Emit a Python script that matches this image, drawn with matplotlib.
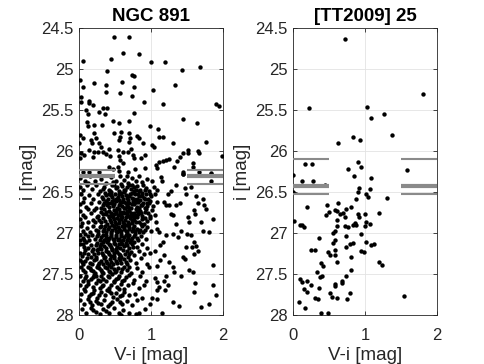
import matplotlib
matplotlib.use('Agg')
import matplotlib.pyplot as plt
from matplotlib.ticker import FuncFormatter

plt.rcParams['font.family'] = ['Liberation Sans', 'DejaVu Sans']

# ---------------- data ----------------
titles = ['NGC 891', '[TT2009] 25']
x_label = 'V-i [mag]'
y_label = 'i [mag]'
x_ticks = [0, 1, 2]
y_ticks = [24.5, 25, 25.5, 26, 26.5, 27, 27.5, 28]

# NGC 891: bright / sparse part (V-i, i)
ngc_upper = [
    (0.48, 24.61), (0.70, 24.61), (0.615, 24.805), (0.84, 24.82), (0.45, 24.88),
    (0.05, 24.90), (1.00, 24.91), (1.20, 24.91), (1.43, 25.01), (1.68, 24.975),
    (0.39, 25.03), (0.02, 25.14), (0.21, 25.17), (0.37, 25.19), (0.60, 25.155),
    (0.73, 25.07), (0.76, 25.09), (0.055, 25.215), (0.76, 25.215), (1.03, 25.25),
    (1.33, 25.19), (0.37, 25.28), (0.565, 25.29), (0.73, 25.325), (0.03, 25.345),
    (0.135, 25.39), (0.90, 25.40), (1.90, 25.43), (1.95, 25.45), (1.65, 26.00),
    (1.66, 26.03), (1.58, 26.15), (1.58, 26.19),
]
ngc_mid = [
    (0.03, 25.40), (0.14, 25.41), (0.19, 25.44), (0.33, 25.48), (0.39, 25.48),
    (0.28, 25.53), (0.10, 25.50), (0.13, 25.55), (0.365, 25.55), (1.17, 25.43),
    (0.77, 25.54), (1.44, 25.61), (1.64, 25.66), (0.99, 25.69), (1.10, 25.73),
    (0.11, 25.65), (0.12, 25.70), (0.21, 25.68), (0.32, 25.68), (0.47, 25.64),
    (0.56, 25.655), (0.70, 25.635), (0.015, 25.805), (0.05, 25.845), (0.005, 25.90),
    (0.21, 25.785), (0.17, 25.865), (0.24, 25.845), (0.18, 25.905), (0.28, 25.905),
    (0.305, 25.95), (0.26, 26.01), (0.34, 26.015), (0.49, 25.775), (0.58, 25.77),
    (0.69, 25.785), (0.805, 25.82), (0.84, 25.84), (0.575, 25.83), (0.56, 25.86),
    (0.71, 25.84), (0.70, 25.885), (0.885, 25.905), (0.61, 26.01), (0.545, 25.99),
    (0.68, 26.01), (0.72, 25.98), (0.03, 26.03), (0.07, 26.05), (0.015, 26.09),
    (0.14, 25.99), (0.21, 26.01), (0.19, 26.07), (0.42, 25.97), (0.375, 26.04),
    (0.435, 26.06), (0.55, 26.06), (0.57, 26.11), (0.61, 26.15), (0.745, 26.05),
    (0.77, 26.08), (0.86, 26.09), (0.91, 26.05), (1.02, 25.93), (1.04, 25.95),
    (1.115, 25.83), (1.16, 25.83), (1.30, 25.90), (1.44, 26.02), (1.51, 25.99),
    (1.52, 26.02), (1.76, 25.89), (1.98, 26.06), (1.07, 26.17), (1.115, 26.14),
    (1.16, 26.12), (1.21, 26.11), (1.245, 26.10), (1.09, 26.21), (1.36, 26.12),
    (1.40, 26.07), (1.315, 26.19), (1.44, 26.25), (1.45, 26.28), (1.67, 26.25),
    (1.83, 26.27), (0.42, 26.20), (0.47, 26.22), (0.54, 26.19), (0.56, 26.24),
    (0.68, 26.25), (0.78, 26.22), (0.91, 26.21), (0.05, 26.25), (0.14, 26.25),
    (0.28, 26.25),
]
# NGC 891: dense main body
ngc_core = [
    (0.02, 26.33), (0.08, 26.37), (0.15, 26.31), (0.22, 26.36), (0.31, 26.34),
    (0.38, 26.39), (0.45, 26.32), (0.52, 26.37), (0.57, 26.31), (0.63, 26.35),
    (0.68, 26.39), (0.73, 26.33), (0.79, 26.36), (0.84, 26.31), (0.88, 26.38),
    (0.94, 26.34), (1.01, 26.37), (0.66, 26.30), (0.47, 26.38), (0.12, 26.39),
    (0.01, 26.44), (0.05, 26.48), (0.11, 26.42), (0.18, 26.46), (0.24, 26.41),
    (0.29, 26.49), (0.35, 26.44), (0.41, 26.47), (0.46, 26.42), (0.51, 26.45),
    (0.55, 26.49), (0.60, 26.43), (0.64, 26.47), (0.69, 26.41), (0.72, 26.46),
    (0.76, 26.49), (0.81, 26.43), (0.85, 26.47), (0.89, 26.42), (0.93, 26.45),
    (0.97, 26.49), (1.04, 26.44), (1.09, 26.47), (0.58, 26.40), (0.77, 26.44),
    (0.03, 26.52), (0.07, 26.57), (0.14, 26.54), (0.20, 26.59), (0.26, 26.53),
    (0.32, 26.56), (0.36, 26.51), (0.40, 26.58), (0.44, 26.54), (0.48, 26.60),
    (0.50, 26.52), (0.54, 26.56), (0.58, 26.51), (0.61, 26.58), (0.65, 26.54),
    (0.68, 26.60), (0.71, 26.52), (0.74, 26.57), (0.78, 26.53), (0.80, 26.59),
    (0.83, 26.55), (0.87, 26.51), (0.90, 26.57), (0.93, 26.53), (0.96, 26.59),
    (1.00, 26.55), (1.06, 26.52), (0.63, 26.50), (0.85, 26.60), (0.45, 26.50),
    (0.01, 26.65), (0.06, 26.62), (0.10, 26.68), (0.17, 26.64), (0.23, 26.69),
    (0.28, 26.62), (0.33, 26.66), (0.37, 26.61), (0.41, 26.68), (0.44, 26.63),
    (0.47, 26.67), (0.51, 26.61), (0.53, 26.69), (0.57, 26.64), (0.60, 26.67),
    (0.63, 26.62), (0.66, 26.66), (0.69, 26.63), (0.72, 26.69), (0.75, 26.61),
    (0.77, 26.65), (0.80, 26.68), (0.82, 26.62), (0.86, 26.66), (0.89, 26.63),
    (0.92, 26.69), (0.95, 26.64), (0.99, 26.61), (1.03, 26.67), (0.55, 26.60),
    (0.70, 26.70), (0.40, 26.64),
    (0.02, 26.73), (0.05, 26.78), (0.12, 26.71), (0.16, 26.76), (0.21, 26.72),
    (0.27, 26.79), (0.30, 26.74), (0.35, 26.71), (0.38, 26.77), (0.42, 26.73),
    (0.46, 26.79), (0.49, 26.72), (0.52, 26.76), (0.55, 26.71), (0.58, 26.78),
    (0.61, 26.74), (0.64, 26.70), (0.67, 26.77), (0.70, 26.73), (0.73, 26.79),
    (0.76, 26.75), (0.79, 26.71), (0.82, 26.77), (0.85, 26.73), (0.88, 26.79),
    (0.91, 26.74), (0.96, 26.76), (1.01, 26.72), (1.05, 26.78), (0.60, 26.80),
    (0.01, 26.83), (0.04, 26.88), (0.09, 26.81), (0.13, 26.86), (0.19, 26.84),
    (0.25, 26.81), (0.31, 26.87), (0.34, 26.82), (0.39, 26.89), (0.43, 26.84),
    (0.47, 26.80), (0.50, 26.86), (0.53, 26.82), (0.56, 26.88), (0.59, 26.83),
    (0.62, 26.89), (0.65, 26.81), (0.68, 26.86), (0.71, 26.82), (0.74, 26.88),
    (0.77, 26.84), (0.80, 26.80), (0.84, 26.86), (0.87, 26.83), (0.90, 26.89),
    (0.94, 26.85), (0.98, 26.82), (1.07, 26.86), (0.66, 26.90),
    (0.03, 26.92), (0.06, 26.97), (0.11, 26.94), (0.15, 26.99), (0.20, 26.91),
    (0.24, 26.96), (0.29, 26.93), (0.33, 26.98), (0.36, 26.91), (0.40, 26.95),
    (0.44, 26.99), (0.48, 26.92), (0.51, 26.97), (0.54, 26.93), (0.57, 26.98),
    (0.60, 26.91), (0.63, 26.95), (0.67, 26.99), (0.70, 26.93), (0.73, 26.97),
    (0.76, 26.91), (0.80, 26.95), (0.83, 26.99), (0.87, 26.92), (0.91, 26.96),
    (0.95, 26.93), (1.00, 26.98), (0.46, 26.90),
    (0.01, 27.02), (0.05, 27.06), (0.09, 27.01), (0.14, 27.08), (0.18, 27.03),
    (0.22, 27.07), (0.27, 27.01), (0.31, 27.05), (0.35, 27.09), (0.38, 27.02),
    (0.42, 27.06), (0.45, 27.01), (0.49, 27.08), (0.52, 27.03), (0.56, 27.07),
    (0.59, 27.01), (0.63, 27.05), (0.66, 27.09), (0.70, 27.02), (0.74, 27.06),
    (0.78, 27.01), (0.82, 27.08), (0.86, 27.04), (0.93, 27.07), (0.02, 27.09),
    (0.02, 27.13), (0.07, 27.17), (0.10, 27.11), (0.16, 27.15), (0.20, 27.19),
    (0.25, 27.12), (0.29, 27.16), (0.33, 27.11), (0.37, 27.18), (0.41, 27.13),
    (0.44, 27.17), (0.48, 27.12), (0.51, 27.19), (0.55, 27.14), (0.58, 27.10),
    (0.62, 27.16), (0.65, 27.12), (0.69, 27.18), (0.73, 27.14), (0.77, 27.11),
    (0.81, 27.17), (0.88, 27.13), (0.95, 27.18),
    (0.01, 27.24), (0.04, 27.28), (0.09, 27.21), (0.13, 27.26), (0.18, 27.22),
    (0.23, 27.29), (0.27, 27.24), (0.30, 27.20), (0.34, 27.27), (0.38, 27.22),
    (0.42, 27.26), (0.46, 27.21), (0.49, 27.28), (0.53, 27.23), (0.57, 27.27),
    (0.61, 27.21), (0.64, 27.25), (0.68, 27.29), (0.72, 27.23), (0.76, 27.27),
    (0.83, 27.22), (0.90, 27.26), (0.99, 27.24),
    (0.02, 27.33), (0.06, 27.38), (0.11, 27.31), (0.15, 27.36), (0.21, 27.33),
    (0.26, 27.39), (0.30, 27.34), (0.35, 27.31), (0.39, 27.37), (0.43, 27.32),
    (0.47, 27.38), (0.51, 27.34), (0.55, 27.30), (0.59, 27.36), (0.63, 27.32),
    (0.67, 27.38), (0.71, 27.33), (0.79, 27.36), (0.86, 27.31), (0.94, 27.38),
    (0.03, 27.42), (0.08, 27.47), (0.12, 27.41), (0.17, 27.45), (0.22, 27.49),
    (0.28, 27.43), (0.32, 27.47), (0.36, 27.41), (0.41, 27.46), (0.45, 27.42),
    (0.50, 27.48), (0.54, 27.43), (0.58, 27.47), (0.62, 27.41), (0.66, 27.45),
    (0.72, 27.49), (0.80, 27.43), (0.88, 27.47), (0.97, 27.42),
    (0.01, 27.53), (0.05, 27.58), (0.10, 27.52), (0.16, 27.56), (0.21, 27.51),
    (0.26, 27.57), (0.31, 27.53), (0.37, 27.59), (0.42, 27.54), (0.46, 27.50),
    (0.51, 27.56), (0.56, 27.52), (0.60, 27.58), (0.65, 27.54), (0.70, 27.51),
    (0.77, 27.57), (0.85, 27.53), (0.93, 27.59),
    (0.02, 27.63), (0.07, 27.68), (0.13, 27.62), (0.19, 27.66), (0.24, 27.61),
    (0.29, 27.67), (0.34, 27.63), (0.39, 27.69), (0.44, 27.64), (0.48, 27.60),
    (0.53, 27.66), (0.58, 27.62), (0.63, 27.68), (0.68, 27.64), (0.75, 27.61),
    (0.83, 27.67), (0.90, 27.63),
    (0.03, 27.74), (0.09, 27.71), (0.14, 27.77), (0.20, 27.73), (0.25, 27.79),
    (0.31, 27.72), (0.36, 27.76), (0.41, 27.71), (0.47, 27.78), (0.52, 27.73),
    (0.57, 27.77), (0.62, 27.72), (0.69, 27.76), (0.78, 27.74), (0.87, 27.79),
    (0.01, 27.82), (0.07, 27.86), (0.12, 27.81), (0.18, 27.88), (0.24, 27.83),
    (0.30, 27.87), (0.35, 27.82), (0.40, 27.89), (0.46, 27.84), (0.53, 27.81),
    (0.60, 27.87), (0.66, 27.83), (0.74, 27.88), (0.81, 27.82),
    (0.04, 27.93), (0.10, 27.97), (0.17, 27.92), (0.23, 27.96), (0.29, 27.99),
    (0.34, 27.93), (0.42, 27.97), (0.48, 27.92), (0.55, 27.98), (0.61, 27.94),
    (0.70, 27.97), (0.79, 27.99), (0.58, 28.00),
]
# NGC 891: extra stars filling the crowded centre of the cloud
ngc_core_fill = [
    (0.33, 26.46), (0.43, 26.49), (0.49, 26.41), (0.62, 26.48), (0.67, 26.44),
    (0.74, 26.42), (0.83, 26.49), (0.91, 26.47), (0.53, 26.44), (0.79, 26.47),
    (0.34, 26.59), (0.38, 26.54), (0.46, 26.56), (0.52, 26.58), (0.56, 26.53),
    (0.60, 26.55), (0.66, 26.57), (0.70, 26.55), (0.73, 26.51), (0.76, 26.59),
    (0.82, 26.52), (0.88, 26.55), (0.92, 26.59), (0.98, 26.52), (0.42, 26.52),
    (0.31, 26.69), (0.35, 26.64), (0.39, 26.66), (0.46, 26.61), (0.49, 26.65),
    (0.55, 26.66), (0.59, 26.62), (0.62, 26.69), (0.65, 26.64), (0.68, 26.68),
    (0.74, 26.65), (0.79, 26.62), (0.84, 26.69), (0.88, 26.66), (0.94, 26.67),
    (0.97, 26.63),
    (0.33, 26.77), (0.37, 26.74), (0.41, 26.79), (0.44, 26.75), (0.48, 26.77),
    (0.51, 26.73), (0.54, 26.78), (0.57, 26.74), (0.63, 26.76), (0.66, 26.73),
    (0.69, 26.79), (0.72, 26.75), (0.78, 26.78), (0.81, 26.73), (0.86, 26.76),
    (0.93, 26.71), (0.98, 26.79),
    (0.28, 26.84), (0.36, 26.85), (0.41, 26.81), (0.45, 26.87), (0.49, 26.83),
    (0.52, 26.89), (0.55, 26.84), (0.58, 26.81), (0.61, 26.86), (0.64, 26.84),
    (0.70, 26.89), (0.73, 26.84), (0.76, 26.81), (0.79, 26.87), (0.86, 26.89),
    (0.92, 26.82), (0.22, 26.87),
    (0.27, 26.97), (0.31, 26.91), (0.35, 26.95), (0.38, 26.99), (0.42, 26.93),
    (0.46, 26.96), (0.50, 26.94), (0.53, 26.99), (0.56, 26.95), (0.59, 26.97),
    (0.62, 26.93), (0.65, 26.97), (0.69, 26.95), (0.75, 26.94), (0.78, 26.98),
    (0.85, 26.96), (0.89, 26.99),
    (0.25, 27.04), (0.29, 27.08), (0.33, 27.02), (0.37, 27.06), (0.40, 27.09),
    (0.44, 27.04), (0.47, 27.07), (0.51, 27.05), (0.54, 27.09), (0.58, 27.04),
    (0.61, 27.08), (0.65, 27.03), (0.68, 27.06), (0.72, 27.09), (0.76, 27.04),
    (0.80, 27.06), (0.12, 27.04), (0.07, 27.08),
    (0.05, 27.14), (0.13, 27.18), (0.23, 27.15), (0.27, 27.19), (0.31, 27.14),
    (0.35, 27.16), (0.39, 27.11), (0.43, 27.15), (0.46, 27.19), (0.50, 27.14),
    (0.53, 27.17), (0.57, 27.18), (0.60, 27.13), (0.67, 27.15), (0.71, 27.11),
    (0.75, 27.17),
    (0.07, 27.24), (0.16, 27.29), (0.21, 27.25), (0.25, 27.21), (0.32, 27.24),
    (0.36, 27.29), (0.40, 27.23), (0.44, 27.28), (0.48, 27.24), (0.51, 27.22),
    (0.55, 27.26), (0.59, 27.29), (0.66, 27.22), (0.70, 27.26),
    (0.04, 27.35), (0.09, 27.34), (0.18, 27.38), (0.24, 27.32), (0.28, 27.36),
    (0.33, 27.38), (0.37, 27.34), (0.41, 27.39), (0.45, 27.35), (0.49, 27.31),
    (0.53, 27.37), (0.57, 27.33), (0.65, 27.35),
    (0.05, 27.45), (0.15, 27.43), (0.20, 27.46), (0.25, 27.41), (0.30, 27.45),
    (0.34, 27.49), (0.39, 27.43), (0.43, 27.48), (0.48, 27.44), (0.52, 27.46),
    (0.60, 27.44), (0.69, 27.42),
    (0.08, 27.55), (0.13, 27.59), (0.19, 27.54), (0.24, 27.52), (0.29, 27.59),
    (0.34, 27.56), (0.40, 27.52), (0.49, 27.58), (0.54, 27.55), (0.63, 27.57),
    (0.10, 27.65), (0.21, 27.69), (0.32, 27.65), (0.42, 27.67), (0.55, 27.68),
    (0.17, 27.74), (0.28, 27.75), (0.44, 27.73), (0.60, 27.75), (0.15, 27.84),
    (0.27, 27.85), (0.43, 27.86), (0.57, 27.84), (0.20, 27.94), (0.38, 27.95),
]
# NGC 891: red tail of the faint part
ngc_tail = [
    (1.14, 26.32), (1.15, 26.36), (1.35, 26.42), (1.45, 26.28), (1.47, 26.45),
    (1.56, 26.44), (1.83, 26.28), (1.84, 26.36), (1.49, 26.53), (1.23, 26.53),
    (1.28, 26.49), (1.185, 26.62), (1.25, 26.66), (1.35, 26.66), (1.40, 26.64),
    (1.63, 26.55), (1.72, 26.58), (1.65, 26.64), (1.74, 26.66), (1.76, 26.71),
    (1.60, 26.72), (1.615, 26.765), (1.86, 26.825), (1.81, 26.99), (1.51, 26.805),
    (1.53, 26.87), (1.69, 26.86), (1.72, 26.97), (1.35, 26.89), (1.42, 26.97),
    (1.50, 27.01), (1.56, 27.03), (1.37, 27.05), (1.30, 27.01), (1.60, 27.11),
    (1.625, 27.16), (1.21, 27.03), (1.16, 27.11), (1.09, 26.95), (1.115, 26.99),
    (1.28, 26.765), (1.30, 26.785), (1.21, 26.66), (1.09, 26.62),
    (1.49, 27.17), (1.565, 27.17), (1.65, 27.215), (1.60, 27.255), (1.44, 27.295),
    (1.475, 27.315), (1.86, 27.385), (1.53, 27.45), (1.58, 27.47), (1.42, 27.53),
    (1.32, 27.48), (1.30, 27.42), (1.21, 27.52), (1.615, 27.61), (1.60, 27.72),
    (1.86, 27.63), (1.90, 27.76), (1.80, 27.86), (1.69, 27.90), (1.39, 27.89),
    (1.15, 27.98), (1.30, 27.84), (1.20, 27.70), (1.115, 27.66), (1.23, 27.64),
    (1.185, 27.58), (1.05, 27.55), (1.08, 27.60), (1.09, 27.70), (1.02, 27.79),
    (1.09, 27.805), (0.98, 27.86), (0.92, 27.93), (0.84, 27.97),
    (1.05, 27.22), (1.12, 27.33), (1.18, 27.27), (1.08, 27.40), (1.25, 27.35),
    (1.13, 27.15),
]

# [TT2009] 25
tt_points = [
    (0.718, 24.64), (1.80, 25.30), (0.22, 25.475), (1.03, 25.46), (1.08, 25.60),
    (1.26, 25.545), (1.37, 25.80), (0.83, 25.83), (0.93, 25.87), (0.625, 25.90),
    (0.90, 26.13), (0.167, 26.16), (0.27, 26.16), (0.76, 26.215), (0.94, 26.20),
    (1.59, 26.235), (0.005, 26.29), (0.12, 26.365), (0.28, 26.37), (0.44, 26.41),
    (0.85, 26.30), (1.09, 26.325), (0.91, 26.455), (1.07, 26.46), (0.90, 26.50),
    (0.005, 26.50), (1.02, 26.53), (1.04, 26.555), (1.31, 26.57), (0.87, 26.59),
    (0.19, 26.68), (0.47, 26.655), (0.62, 26.64), (0.81, 26.685), (1.19, 26.75),
    (0.50, 26.74), (0.46, 26.78), (0.58, 26.72), (0.65, 26.77), (0.61, 26.73),
    (0.69, 26.76), (0.73, 26.71), (0.90, 26.765), (0.995, 26.765), (0.61, 26.84),
    (0.72, 26.81), (0.92, 26.81), (0.84, 26.90), (0.86, 26.88), (0.88, 26.90),
    (1.02, 26.86), (1.07, 26.89), (0.02, 26.85), (0.10, 26.90), (0.15, 26.93),
    (0.13, 26.90), (0.61, 26.915), (0.72, 26.92), (0.77, 26.93), (1.00, 26.92),
    (0.59, 26.975), (0.56, 26.995), (0.94, 27.01), (0.365, 27.065), (0.74, 27.04),
    (0.58, 27.09), (0.555, 27.12), (0.73, 27.17), (0.79, 27.14), (0.83, 27.125),
    (1.01, 27.105), (1.08, 27.145), (1.12, 27.13), (0.25, 27.21), (0.30, 27.21),
    (0.49, 27.23), (0.58, 27.21), (0.945, 27.22), (0.98, 27.23), (0.52, 27.27),
    (0.58, 27.265), (0.81, 27.29), (0.61, 27.35), (0.39, 27.36), (0.42, 27.405),
    (1.19, 27.355), (1.23, 27.385), (0.805, 27.455), (0.34, 27.48), (0.375, 27.535),
    (0.40, 27.52), (0.73, 27.525), (0.10, 27.565), (0.125, 27.60), (0.20, 27.585),
    (0.245, 27.64), (0.675, 27.585), (0.675, 27.615), (0.58, 27.62), (0.58, 27.645),
    (0.15, 27.68), (0.365, 27.675), (0.19, 27.725), (0.51, 27.73), (0.79, 27.735),
    (0.54, 27.78), (1.54, 27.77), (0.305, 27.795), (0.35, 27.80), (0.61, 27.795),
    (0.755, 27.80), (0.09, 27.84), (0.17, 27.915), (0.385, 27.97), (0.48, 27.97),
]

# grey reference levels: (i mag, thick?)
ngc_levels = [(26.23, False), (26.30, True), (26.40, False)]
tt_levels = [(26.10, False), (26.43, True), (26.52, False)]
level_spans = [(0.0, 0.5), (1.5, 2.0)]

# ---------------- plotting ----------------
fig = plt.figure(figsize=(4.85, 3.64), dpi=100)
W, H = 485.0, 364.0
ax1 = fig.add_axes([79 / W, 1 - 315 / H, 144 / W, 287 / H])
ax2 = fig.add_axes([293 / W, 1 - 315 / H, 144 / W, 287 / H])

ngc_all = ngc_upper + ngc_mid + ngc_core + ngc_core_fill + ngc_tail
panels = [(ax1, ngc_all, ngc_levels, titles[0]),
          (ax2, tt_points, tt_levels, titles[1])]

for ax, pts, levels, title in panels:
    xs = [p[0] for p in pts]
    ys = [p[1] for p in pts]
    ax.scatter(xs, ys, s=10, c='k', linewidths=0, zorder=3, clip_on=True)
    for mag, thick in levels:
        for x0, x1 in level_spans:
            ax.plot([x0, x1], [mag, mag], '-', color='#8a8a8a',
                    lw=3.0 if thick else 1.5, zorder=4, solid_capstyle='butt')
    ax.set_xlim(0, 2)
    ax.set_ylim(28, 24.5)
    ax.set_xticks(x_ticks)
    ax.set_yticks(y_ticks)
    ax.yaxis.set_major_formatter(FuncFormatter(lambda v, p: '%g' % v))
    ax.grid(True, color='#e3e3e3', lw=0.6, zorder=0)
    ax.set_axisbelow(True)
    ax.tick_params(direction='in', length=3, width=0.6, top=True, right=True,
                   labelsize=12, colors='#262626')
    ax.tick_params(axis='x', pad=9)
    ax.tick_params(axis='y', pad=4)
    for sp in ax.spines.values():
        sp.set_color('#262626')
        sp.set_linewidth(0.6)
    ax.set_xlabel(x_label, fontsize=13.5, color='#262626', labelpad=3)
    ax.set_ylabel(y_label, fontsize=13.5, color='#262626', labelpad=3)
    ax.set_title(title, fontsize=13.5, fontweight='bold', pad=5)

fig.savefig('out.png', dpi=100)
